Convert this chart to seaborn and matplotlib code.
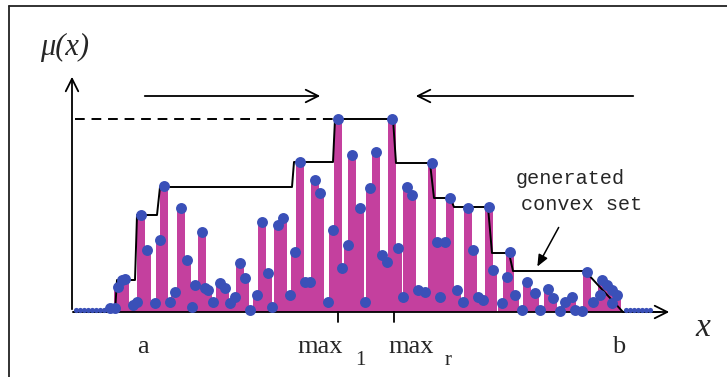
import numpy as np
import pandas as pd
import matplotlib
matplotlib.use("Agg")
import matplotlib.pyplot as plt
import seaborn as sns

# sample points (x position, membership value)
pts_x = [110, 115, 118, 122, 125, 133, 137, 141, 147, 155, 160, 164, 170, 175, 181, 187, 192, 195,
         202, 205, 208, 213, 220, 225, 230, 235, 240, 245, 250, 257, 262, 268, 272, 278, 283, 290, 295,
         300, 305, 310, 315, 320, 328, 333, 338, 342, 348, 352, 360, 365, 370, 376, 382, 387, 392,
         398, 403, 407, 412, 418, 425, 432, 437, 445, 440, 450, 457, 463, 468, 473, 478, 483, 489,
         493, 502, 507, 510, 515, 522, 527, 535, 540, 548, 553, 560, 565, 572, 575, 582, 587, 593,
         600, 602, 607, 612, 617, 612]
pts_mu = [4, 4, 25, 32, 33, 7, 10, 97, 62, 9, 72, 126, 10, 20, 104, 52, 5, 27,
          80, 24, 22, 10, 29, 24, 9, 15, 49, 34, 2, 17, 90, 39, 5, 87, 94, 17, 60,
          150, 30, 30, 132, 119, 10, 82, 193, 44, 67, 157, 104, 10, 124, 160, 57, 50, 193,
          64, 15, 125, 117, 22, 20, 149, 70, 70, 15, 114, 22, 10, 104, 62, 15, 12, 105,
          42, 9, 35, 60, 17, 2, 30, 19, 2, 23, 14, 1, 10, 15, 2, 1, 40, 10,
          17, 32, 27, 22, 17, 9]

# tiny points lying on the axis outside [a, b]
floor_x = [76, 80, 84, 88, 92, 96, 100, 104, 626, 630, 634, 638, 642, 646, 650]
floor_mu = [2] * len(floor_x)

# generated convex set (step envelope)
env_x = [73, 115, 117, 135, 137, 157, 160, 292, 294, 333, 335, 393, 396, 430, 434,
         450, 454, 488, 492, 509, 513, 585, 623, 660]
env_mu = [0, 0, 32, 32, 97, 97, 125, 125, 150, 150, 193, 193, 149, 149, 114,
          114, 105, 105, 59, 59, 41, 41, 0, 0]

tick_x = [338, 394]
tick_labels = ["max", "max"]
tick_subs = ["1", "r"]
label_x = [297, 388]
sub_x = [355, 445]
peak_mu = 193

pts = pd.DataFrame({"x": pts_x, "mu": pts_mu})
floor = pd.DataFrame({"x": floor_x, "mu": floor_mu})
env = pd.DataFrame({"x": env_x, "mu": env_mu})

sns.set_style("white")
plt.rcParams["font.family"] = ["Liberation Serif", "DejaVu Serif"]

magenta = "#C4409E"
blue = "#3A50B8"

fig = plt.figure(figsize=(7.27, 3.77), dpi=100)
ax = fig.add_axes([0, 0, 1, 1])
ax.set_xlim(0, 727)
ax.set_ylim(-65, 312)
ax.axis("off")

# frame
ax.plot([9, 727], [306, 306], color="#222222", lw=1.3)
ax.plot([9, 9], [-65, 306], color="#222222", lw=1.3)

# stems, then points
ax.bar(pts["x"], pts["mu"], width=8, color=magenta, linewidth=0, zorder=2)
sns.scatterplot(data=pts, x="x", y="mu", ax=ax, color=blue, s=62, linewidth=0, zorder=4)
sns.scatterplot(data=floor, x="x", y="mu", ax=ax, color=blue, s=14, linewidth=0, zorder=4)

sns.lineplot(data=env, x="x", y="mu", ax=ax, sort=False, color="black", lw=1.4, zorder=3)

# axes with open arrow heads
arr = dict(arrowstyle="->,head_length=0.9,head_width=0.45", color="black", lw=1.3)
ax.annotate("", xy=(672, 0), xytext=(72, 0), arrowprops=arr, zorder=3)
ax.annotate("", xy=(72, 238), xytext=(72, 0), arrowprops=arr, zorder=3)

# direction arrows above
ax.annotate("", xy=(323, 216), xytext=(142, 216), arrowprops=arr)
ax.annotate("", xy=(413, 216), xytext=(636, 216), arrowprops=arr)

# dashed level of the peak
ax.plot([75, 335], [peak_mu, peak_mu], color="black", lw=1.4, ls=(0, (5, 3.5)))

# ticks and labels on the x axis
for tx, lx, sx, lab, sub in zip(tick_x, label_x, sub_x, tick_labels, tick_subs):
    ax.plot([tx, tx], [0, -10], color="black", lw=1.3)
    ax.text(lx, -41, lab, fontsize=19, va="baseline", ha="left")
    ax.text(sx, -53, sub, fontsize=15, va="baseline", ha="left")
ax.text(143, -41, "a", fontsize=19, va="baseline", ha="center")
ax.text(619, -41, "b", fontsize=19, va="baseline", ha="center")

ax.text(703, -16, "x", fontsize=24, style="italic", ha="center", va="center")
ax.text(65, 265, "μ(x)", fontsize=22, style="italic", ha="center", va="center")

ax.text(516, 134, "generated", fontsize=14.5, family="Liberation Mono", va="center", ha="left")
ax.text(521, 108, "convex set", fontsize=14.5, family="Liberation Mono", va="center", ha="left")
ax.annotate("", xy=(536, 43), xytext=(560, 87),
            arrowprops=dict(arrowstyle="-|>,head_length=0.7,head_width=0.3", color="black", lw=1.1))

fig.savefig("out.png", dpi=100)
